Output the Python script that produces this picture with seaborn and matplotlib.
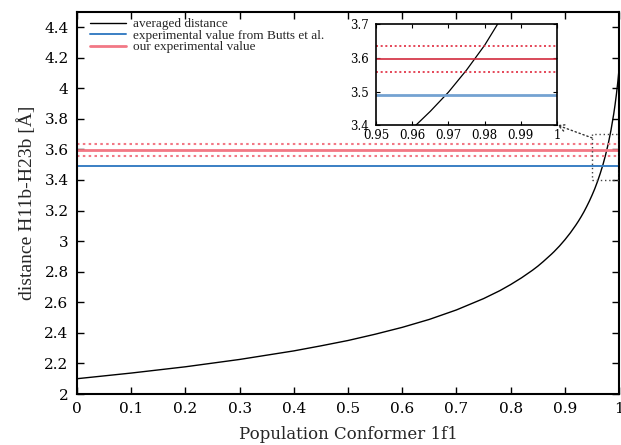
import numpy as np
import pandas as pd
import matplotlib
matplotlib.use("Agg")
import matplotlib.pyplot as plt
from matplotlib.patches import Rectangle
from matplotlib.ticker import FuncFormatter, MultipleLocator
import seaborn as sns

# Averaged H11b-H23b distance versus population of conformer 1f1
population = [0.0, 0.1, 0.2, 0.3, 0.4, 0.45, 0.5, 0.55, 0.6, 0.65, 0.7, 0.75,
              0.78, 0.8, 0.82, 0.84, 0.85, 0.86, 0.875, 0.88, 0.89, 0.9,
              0.91, 0.92, 0.925, 0.93, 0.935, 0.94, 0.945, 0.95, 0.955,
              0.96, 0.965, 0.97, 0.975, 0.98, 0.985, 0.99, 0.9925, 0.995,
              0.9975, 1.0]
distance = [2.100, 2.137, 2.178, 2.226, 2.282, 2.315, 2.350, 2.391, 2.436,
            2.488, 2.550, 2.624, 2.676, 2.716, 2.760, 2.809, 2.836, 2.866,
            2.914, 2.931, 2.968, 3.009, 3.054, 3.104, 3.131, 3.160, 3.191,
            3.225, 3.261, 3.300, 3.342, 3.389, 3.441, 3.498, 3.564, 3.638,
            3.726, 3.831, 3.892, 3.961, 4.039, 4.130]

butts_value = 3.49
our_value = 3.597
our_lower = 3.557
our_upper = 3.636

zoom_x = (0.95, 1.0)
zoom_y = (3.4, 3.7)

df = pd.DataFrame({"population": population, "distance": distance})

sns.set_theme(style="ticks")
plt.rcParams["font.family"] = ["DejaVu Serif"]

fig = plt.figure(figsize=(6.21, 4.45), dpi=100)
ax = fig.add_axes([0.124, 0.1146, 0.873, 0.859])

red_main = "#f27885"
blue_main = "#3a7fc4"

sns.lineplot(data=df, x="population", y="distance", ax=ax, color="black",
             lw=1.0, label="averaged distance")
ax.axhline(butts_value, color=blue_main, lw=1.4,
           label="experimental value from Butts et al.")
ax.axhline(our_value, color=red_main, lw=2.0, label="our experimental value")
for v in (our_lower, our_upper):
    ax.axhline(v, color=red_main, lw=1.5, ls=(0, (1.2, 1.6)))

ax.set_xlim(0, 1)
ax.set_ylim(2, 4.5)
ax.xaxis.set_major_locator(MultipleLocator(0.1))
fmt = FuncFormatter(lambda v, p: f"{v:.10g}" if abs(v) > 1e-9 else "0")
ax.xaxis.set_major_formatter(fmt)
ax.yaxis.set_major_formatter(fmt)
ax.set_yticks([2, 2.2, 2.4, 2.6, 2.8, 3, 3.2, 3.4, 3.6, 3.8, 4, 4.2, 4.4])
ax.tick_params(direction="in", top=True, right=True, length=5, width=1,
               labelsize=11, pad=6, colors="black")
for s in ax.spines.values():
    s.set_linewidth(1.5)
    s.set_color("black")
ax.set_xlabel("Population Conformer 1f1", fontsize=12, labelpad=7)
ax.set_ylabel("distance H11b-H23b [Å]", fontsize=14, labelpad=6,
              family="Liberation Serif")

leg = ax.legend(loc="upper left", bbox_to_anchor=(0.019, 0.99),
                frameon=False,
                prop={"family": "Liberation Serif", "size": 9.5},
                handlelength=2.7, handletextpad=0.6, labelspacing=-0.06,
                borderaxespad=0.0, borderpad=0.2)

# dotted frame around the zoomed region
ax.add_patch(Rectangle((zoom_x[0], zoom_y[0]), zoom_x[1] - zoom_x[0],
                       zoom_y[1] - zoom_y[0], fill=False, ec="#444444",
                       lw=1.0, ls=(0, (1, 2)), zorder=4))

# inset
ins = fig.add_axes([0.6055, 0.719, 0.2915, 0.226])
ins.set_facecolor("white")
sns.lineplot(data=df, x="population", y="distance", ax=ins, color="black",
             lw=0.9)
ins.axhline(butts_value, color="#74a2d2", lw=2.0)
ins.axhline(our_value, color="#d22a3d", lw=1.2)
for v in (our_lower, our_upper):
    ins.axhline(v, color="#e0283c", lw=1.2, ls=(0, (1.2, 1.6)))
ins.set_xlim(*zoom_x)
ins.set_ylim(*zoom_y)
ins.set_xticks([0.95, 0.96, 0.97, 0.98, 0.99, 1.0])
ins.set_yticks([3.4, 3.5, 3.6, 3.7])
ins.xaxis.set_major_formatter(FuncFormatter(lambda v, p: f"{v:.2f}" if v < 0.999 else "1"))
ins.yaxis.set_major_formatter(FuncFormatter(lambda v, p: f"{v:.1f}"))
ins.set_xlabel("")
ins.set_ylabel("")
ins.tick_params(direction="in", top=True, right=True, length=3, width=0.8,
                labelsize=8.5, colors="black")
ins.tick_params(axis="x", pad=3)
ins.tick_params(axis="y", pad=5)
for s in ins.spines.values():
    s.set_linewidth(1.2)
    s.set_color("black")

# dotted arrow from the zoom frame to the inset
ax.annotate("", xy=(1.0, 0.0), xycoords=ins.transAxes,
            xytext=(0.95, 3.675), textcoords="data",
            arrowprops=dict(arrowstyle="->", color="#333333", lw=1.0,
                            ls=(0, (1, 2)), shrinkA=0, shrinkB=0))

fig.savefig("out.png", dpi=100)
